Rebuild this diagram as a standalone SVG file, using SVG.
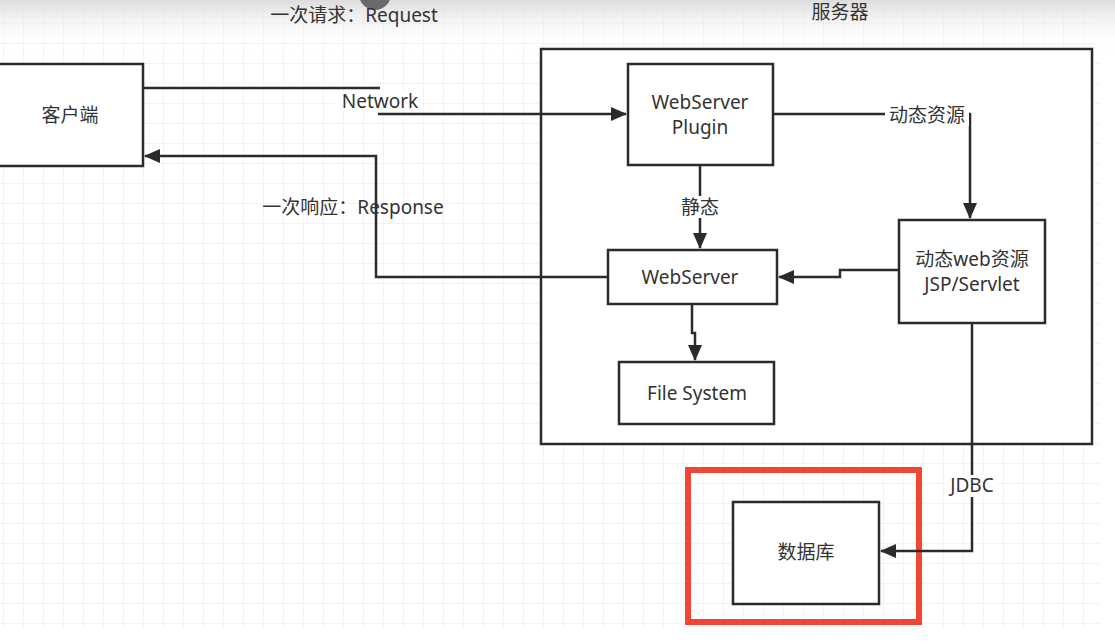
<svg xmlns="http://www.w3.org/2000/svg" width="1115" height="641" viewBox="0 0 1115 641">
<defs>
<pattern id="grid" width="20" height="20" patternUnits="userSpaceOnUse" x="4" y="4">
<path d="M20 0V20M0 20H20" fill="none" stroke="#e6e6e6" stroke-width="1"/>
</pattern>
<linearGradient id="topfade" x1="0" y1="0" x2="0" y2="1">
<stop offset="0" stop-color="#d9d9d9" stop-opacity="0.9"/>
<stop offset="1" stop-color="#ffffff" stop-opacity="0"/>
</linearGradient>
<marker id="arr" markerWidth="16" markerHeight="14" viewBox="0 0 16 14" refX="15" refY="7" orient="auto" markerUnits="userSpaceOnUse">
<path d="M0 0L16 7L0 14Z" fill="#2b2b2b"/>
</marker>
<style>
.box{fill:#fff;stroke:#2b2b2b;stroke-width:2.5}
.ln{fill:none;stroke:#2b2b2b;stroke-width:2.5}
.t{font-family:"Noto Sans","Noto Sans CJK SC",sans-serif;font-size:19px;fill:#333;text-anchor:middle}
.lb{font-family:"Noto Sans","Noto Sans CJK SC",sans-serif;font-size:19px;fill:#333;text-anchor:middle}
</style>
</defs>
<rect width="1115" height="641" fill="#fff"/>
<rect x="0" y="0" width="1100" height="628" fill="url(#grid)"/>
<rect x="0" y="0" width="1115" height="50" fill="url(#topfade)"/>
<circle cx="375" cy="-6" r="16" fill="#6a6a6a"/>

<g id="server">
<rect class="box" x="541" y="49" width="551" height="395"/>
<text class="lb" x="840" y="19">服务器</text>
</g>
<g id="client">
<rect class="box" x="-5" y="64" width="148" height="102"/>
<text class="t" x="70" y="122">客户端</text>
</g>
<g id="plugin">
<rect class="box" x="628" y="64" width="145" height="101"/>
<text class="t" x="700" y="109">WebServer</text>
<text class="t" x="700" y="134">Plugin</text>
</g>
<g id="webserver">
<rect class="box" x="608" y="250" width="169" height="54"/>
<text class="t" x="690" y="284">WebServer</text>
</g>
<g id="filesystem">
<rect class="box" x="619" y="362" width="155" height="62"/>
<text class="t" x="697" y="400">File System</text>
</g>
<g id="dynamic">
<rect class="box" x="899" y="220" width="146" height="103"/>
<text class="t" x="972" y="266">动态web资源</text>
<text class="t" x="972" y="291">JSP/Servlet</text>
</g>
<g id="database">
<rect fill="none" stroke="#f04633" stroke-width="6" x="688" y="470" width="231" height="152"/>
<rect class="box" x="733" y="502" width="146" height="102"/>
<text class="t" x="806" y="559">数据库</text>
</g>

<g id="connectors">
<path class="ln" d="M143 88H380"/>
<path class="ln" d="M378 114H626" marker-end="url(#arr)"/>
<path class="ln" d="M608 277H376V156H145" marker-end="url(#arr)"/>
<path class="ln" d="M700 165V248" marker-end="url(#arr)"/>
<path class="ln" d="M773 114H970V218" marker-end="url(#arr)"/>
<path class="ln" d="M899 270H840V277H779" marker-end="url(#arr)"/>
<path class="ln" d="M692 304V333H695V360" marker-end="url(#arr)"/>
<path class="ln" d="M972 323V551H881" marker-end="url(#arr)"/>
</g>

<g id="labels">
<text class="lb" x="354" y="22">一次请求：Request</text>
<rect x="338" y="92" width="84" height="20" fill="#fff"/>
<text class="lb" x="380" y="108">Network</text>
<text class="lb" x="353" y="214">一次响应：Response</text>
<rect x="885" y="104" width="84" height="22" fill="#fff"/>
<text class="lb" x="927" y="122">动态资源</text>
<rect x="681" y="196" width="38" height="22" fill="#fff"/>
<text class="lb" x="700" y="214">静态</text>
<rect x="947" y="475" width="50" height="22" fill="#fff"/>
<text class="lb" x="972" y="492">JDBC</text>
</g>
</svg>
